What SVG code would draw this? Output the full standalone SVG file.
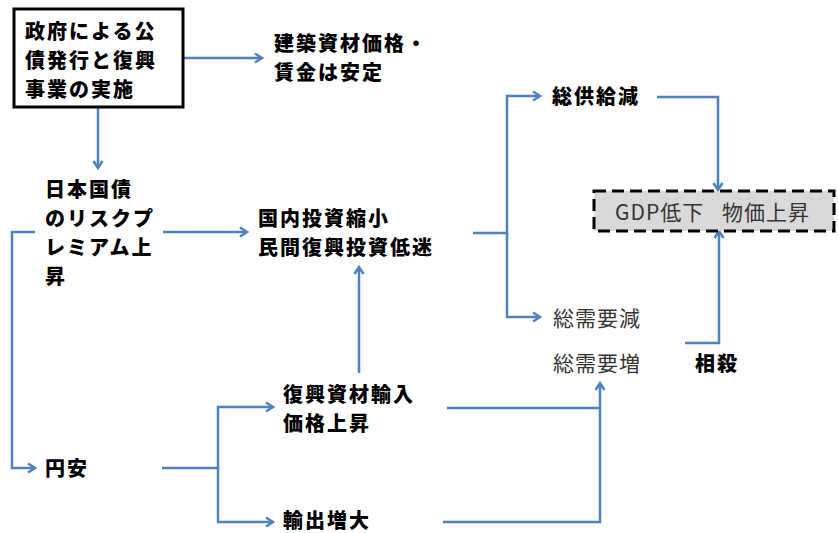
<svg xmlns="http://www.w3.org/2000/svg" width="838" height="533" viewBox="0 0 838 533">
<defs>
<marker id="ah" markerWidth="12" markerHeight="12" refX="9" refY="6" orient="auto" markerUnits="userSpaceOnUse">
<path d="M2,1.5 L9,6 L2,10.5" fill="none" stroke="#4f81bd" stroke-width="2.5"/>
</marker>
<style>
.b{font-family:"Noto Sans CJK JP","Noto Sans",sans-serif;font-weight:900;font-size:20px;letter-spacing:2px;fill:#000}
.r{font-family:"Noto Sans CJK JP","Noto Sans",sans-serif;font-size:21px;letter-spacing:1px;fill:#333}
.c{fill:none;stroke:#4f81bd;stroke-width:2.5}
.a{marker-end:url(#ah)}
</style>
</defs>
<rect width="838" height="533" fill="#fff"/>
<g id="connectors">
<path class="c a" d="M183,58 H262"/>
<path class="c a" d="M98,107 V168"/>
<path class="c a" d="M163,232 H247"/>
<path class="c a" d="M35,232 H12 V468 H35"/>
<path class="c a" d="M162,468 H218 V407 H273"/>
<path class="c a" d="M218,468 V522 H273"/>
<path class="c a" d="M359,373 V267"/>
<path class="c a" d="M473,233 H507 V96 H540"/>
<path class="c a" d="M507,233 V317 H540"/>
<path class="c a" d="M657,97 H718 V190"/>
<path class="c a" d="M685,343 H719 V231"/>
<path class="c" d="M447,408 H600"/>
<path class="c a" d="M443,522 H600 V383"/>
</g>
<g id="n_gov">
<rect x="14" y="9" width="169" height="98" fill="#fff" stroke="#000" stroke-width="3"/>
<text class="b" x="25" y="39">政府による公</text>
<text class="b" x="25" y="68">債発行と復興</text>
<text class="b" x="25" y="97">事業の実施</text>
</g>
<g id="n_stable">
<text class="b" x="274" y="51">建築資材価格・</text>
<text class="b" x="274" y="80">賃金は安定</text>
</g>
<g id="n_risk">
<text class="b" x="45" y="197">日本国債</text>
<text class="b" x="45" y="226">のリスクプ</text>
<text class="b" x="45" y="255">レミアム上</text>
<text class="b" x="45" y="284">昇</text>
</g>
<g id="n_invest">
<text class="b" x="258" y="226">国内投資縮小</text>
<text class="b" x="258" y="255">民間復興投資低迷</text>
</g>
<g id="n_yen">
<text class="b" x="45" y="476">円安</text>
</g>
<g id="n_import">
<text class="b" x="283" y="402">復興資材輸入</text>
<text class="b" x="283" y="431">価格上昇</text>
</g>
<g id="n_export">
<text class="b" x="283" y="528">輸出増大</text>
</g>
<g id="n_supply">
<text class="b" x="552" y="104">総供給減</text>
</g>
<g id="n_demdown">
<text class="r" x="553" y="326">総需要減</text>
</g>
<g id="n_demup">
<text class="r" x="553" y="371">総需要増</text>
</g>
<g id="n_offset">
<text class="b" x="695" y="371">相殺</text>
</g>
<g id="n_result">
<rect x="594" y="191" width="240" height="40" fill="#d9d9d9" stroke="#000" stroke-width="3" stroke-dasharray="12 6"/>
<text class="r" y="220"><tspan x="615">GDP低下</tspan><tspan x="722">物価上昇</tspan></text>
</g>
</svg>
